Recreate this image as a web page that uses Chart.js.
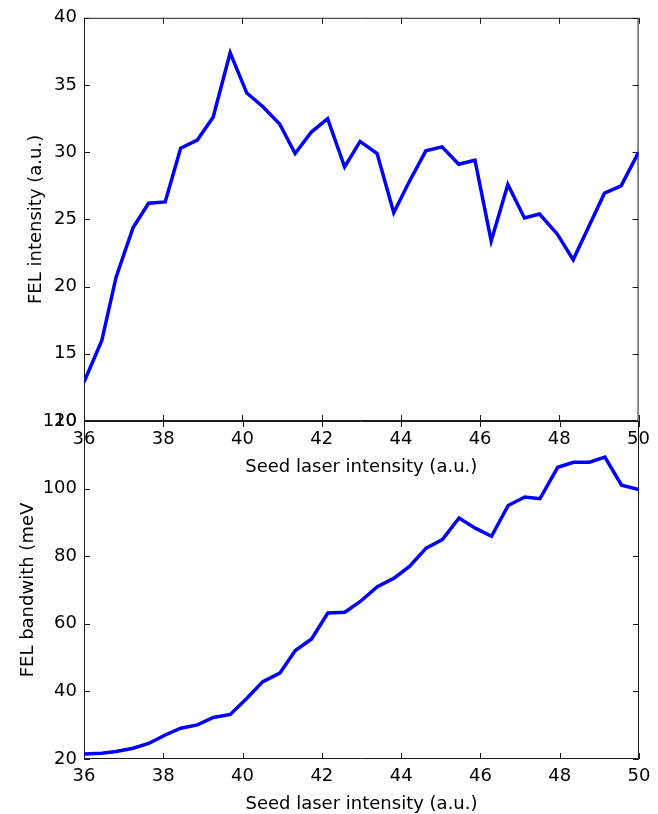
<!DOCTYPE html>
<html><head><meta charset="utf-8">
<script src="https://cdn.jsdelivr.net/npm/chart.js@4/dist/chart.umd.min.js"></script>
<style>
html,body{margin:0;padding:0;background:#fff;}
#wrap{position:relative;width:658px;height:814px;overflow:hidden;background:#fff;}
canvas{position:absolute;left:0;top:0;}
</style></head><body>
<div id="wrap"><canvas id="c1" width="658" height="500"></canvas><canvas id="c2" width="658" height="840"></canvas></div>
<script>
// ---- data ----
const seedIntensity = [36, 36.45, 36.81, 37.24, 37.63, 38.05, 38.44, 38.86, 39.26, 39.69, 40.11, 40.51, 40.94, 41.33, 41.74, 42.15, 42.58, 42.97, 43.40, 43.82, 44.21, 44.63, 45.04, 45.46, 45.87, 46.28, 46.70, 47.12, 47.50, 47.95, 48.35, 48.75, 49.14, 49.56, 50];
const felIntensity = [12.9, 16.0, 20.7, 24.4, 26.2, 26.3, 30.3, 30.9, 32.6, 37.4, 34.4, 33.4, 32.1, 29.9, 31.5, 32.5, 28.9, 30.8, 29.9, 25.5, 27.8, 30.1, 30.4, 29.1, 29.4, 23.4, 27.6, 25.1, 25.4, 23.9, 22.0, 24.5, 26.95, 27.5, 30.0];
const felBandwidth = [21.5, 21.7, 22.2, 23.2, 24.6, 27.1, 29.1, 30.1, 32.3, 33.2, 38.0, 42.9, 45.4, 52.1, 55.5, 63.2, 63.4, 66.6, 71.0, 73.5, 77.0, 82.4, 84.9, 91.3, 88.3, 85.9, 95.0, 97.5, 97.0, 106.3, 107.8, 107.8, 109.3, 101.0, 99.7];
const xTicks = [36, 38, 40, 42, 44, 46, 48, 50];
const intensityTicks = [10, 15, 20, 25, 30, 35, 40];
const bandwidthTicks = [20, 40, 60, 80, 100, 120];
const xLabel = 'Seed laser intensity (a.u.)';
const yLabelTop = 'FEL intensity (a.u.)';
const yLabelBottom = 'FEL bandwith (meV';

Chart.defaults.font.family = "'DejaVu Sans', sans-serif";
Chart.defaults.font.size = 18;
Chart.defaults.color = '#000';

const AXIS = '#1a1a1a';
const TICK = 6;

const framePlugin = {
  id: 'frame',
  beforeDatasetsDraw(chart) {
    const {ctx, chartArea: {left, right, top, bottom}, scales: {x, y}} = chart;
    ctx.save();
    ctx.strokeStyle = AXIS;
    ctx.lineWidth = 1;
    ctx.beginPath();
    ctx.rect(left + 0.5, top + 0.5, right - left - 1, bottom - top - 1);
    x.ticks.forEach(t => {
      const px = Math.round(x.getPixelForValue(t.value)) + 0.5;
      ctx.moveTo(px, bottom); ctx.lineTo(px, bottom - TICK);
      ctx.moveTo(px, top); ctx.lineTo(px, top + TICK);
    });
    y.ticks.forEach(t => {
      const py = Math.round(y.getPixelForValue(t.value)) + 0.5;
      ctx.moveTo(left, py); ctx.lineTo(left + TICK, py);
      ctx.moveTo(right, py); ctx.lineTo(right - TICK, py);
    });
    ctx.stroke();
    ctx.restore();
  }
};

function pts(ys) { return seedIntensity.map((v, i) => ({x: v, y: ys[i]})); }

function makeChart(id, values, yMin, yMax, yTicks, yTitle, yTitlePad, padTop, xH, xTickPad, xTitlePad) {
  return new Chart(document.getElementById(id), {
    type: 'line',
    data: {datasets: [{
      data: pts(values),
      borderColor: '#0000ff',
      borderWidth: 3.5,
      pointRadius: 0,
      tension: 0,
      borderJoinStyle: 'miter',
      fill: false
    }]},
    options: {
      responsive: false,
      animation: false,
      devicePixelRatio: 1,
      layout: {padding: {left: 0, right: 19, top: padTop, bottom: 0}},
      plugins: {legend: {display: false}, tooltip: {enabled: false}},
      scales: {
        x: {
          type: 'linear', min: 36, max: 50,
          afterBuildTicks: s => { s.ticks = xTicks.map(v => ({value: v})); },
          grid: {display: false, drawTicks: false},
          border: {display: false},
          ticks: {padding: xTickPad, maxRotation: 0, autoSkip: false, color: '#000'},
          title: {display: true, text: xLabel, color: '#000', padding: {top: 0, bottom: xTitlePad}},
          afterFit: s => { s.height = xH; }
        },
        y: {
          type: 'linear', min: yMin, max: yMax,
          afterBuildTicks: s => { s.ticks = yTicks.map(v => ({value: v})); },
          grid: {display: false, drawTicks: false},
          border: {display: false},
          ticks: {padding: 7, color: '#000'},
          title: {display: true, text: yTitle, color: '#000', padding: {top: yTitlePad, bottom: 0}},
          afterFit: s => { s.width = 84; }
        }
      }
    },
    plugins: [framePlugin]
  });
}

makeChart('c1', felIntensity, 10, 40, intensityTicks, yLabelTop, 26, 17, 79, 8, 21.5);
makeChart('c2', felBandwidth, 20, 120, bandwidthTicks, yLabelBottom, 18, 421, 81, 6.4, 24.5);
</script>
</body></html>
